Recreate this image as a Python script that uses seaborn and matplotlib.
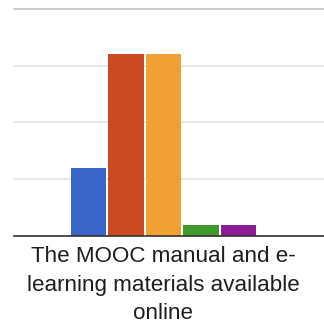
import matplotlib
matplotlib.use("Agg")
import matplotlib.pyplot as plt
import seaborn as sns
import pandas as pd

# Responses for a single question, one bar per answer option
options = ["Option 1", "Option 2", "Option 3", "Option 4", "Option 5"]
counts = [6, 16, 16, 1, 1]
colors = ["#3c65cb", "#cb4a22", "#f1a033", "#3d9a2b", "#8d1c99"]
category_label = "The MOOC manual and e-\nlearning materials available\nonline"
y_ticks = [0, 5, 10, 15, 20]

df = pd.DataFrame({"option": options, "count": counts})

sns.set_theme(style="white")
plt.rcParams["font.family"] = ["Liberation Sans", "DejaVu Sans"]

W = H = 324
fig = plt.figure(figsize=(W / 100, H / 100), dpi=100)
ax = fig.add_axes([14 / W, (H - 236) / H, 310 / W, (236 - 9) / H])

sns.barplot(data=df, x="option", y="count", hue="option", order=options,
            palette=colors, width=0.944, legend=False, ax=ax,
            saturation=1, edgecolor="none", linewidth=0)

ax.set_xlim(-1.984, 6.283)
ax.set_ylim(0, 20)
ax.set_yticks(y_ticks)
ax.set_yticklabels([])
ax.set_xticks([])
ax.set_xlabel("")
ax.set_ylabel("")
ax.tick_params(length=0)
ax.yaxis.grid(True, color="#e2e2e2", linewidth=1.1)
for gl in ax.get_ygridlines():
    gl.set_clip_on(False)
ax.get_ygridlines()[-1].set_color("#cccccc")
ax.get_ygridlines()[-1].set_linewidth(1.4)
ax.set_axisbelow(True)
for side in ["left", "right", "top"]:
    ax.spines[side].set_visible(False)
ax.spines["bottom"].set_color("#333333")
ax.spines["bottom"].set_linewidth(1.2)

# Category label under the bars, one line at a time
baselines = [262, 291, 319]
for line, yb in zip(category_label.split("\n"), baselines):
    fig.text(163 / W, 1 - yb / H, line, ha="center", va="baseline",
             fontsize=16.1, color="#1e1e1e")

fig.savefig("out.png", dpi=100)
